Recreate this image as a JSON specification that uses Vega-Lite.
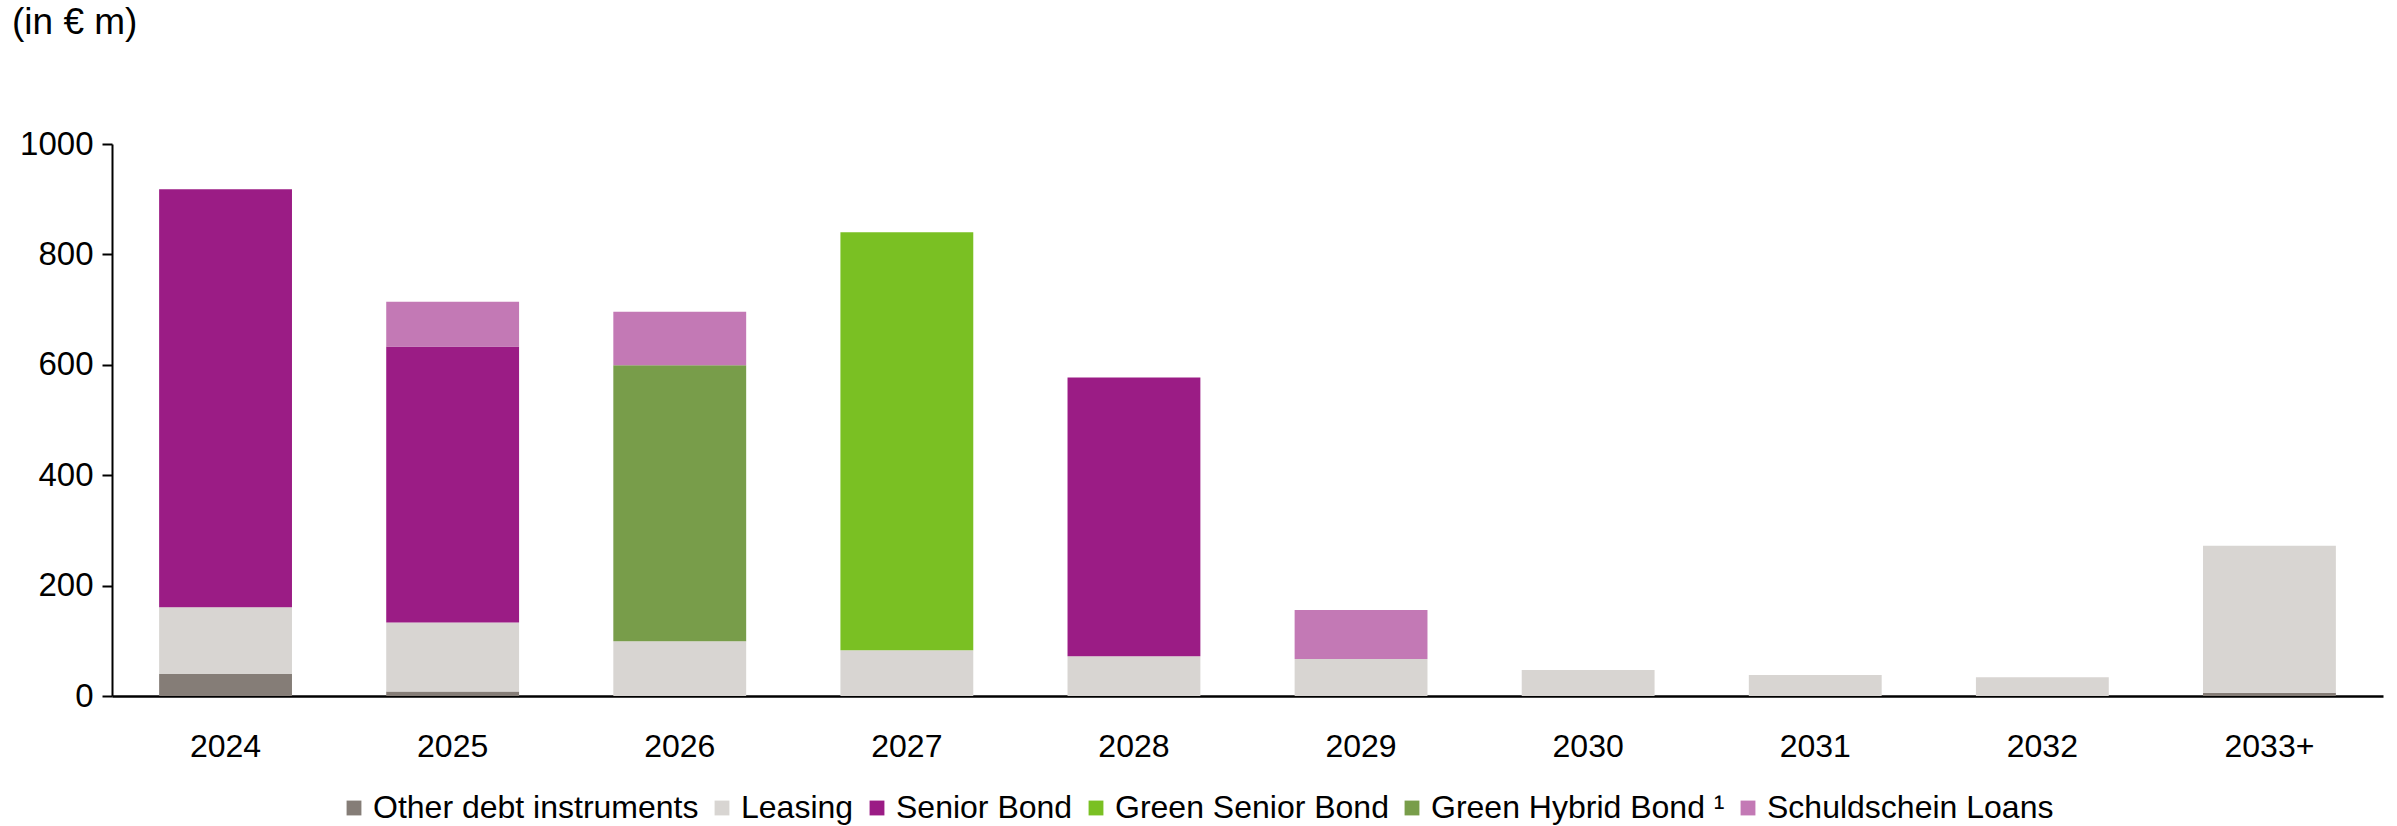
{
  "$schema": "https://vega.github.io/schema/vega-lite/v6.json",
  "width": 2271,
  "height": 552,
  "autosize": "none",
  "padding": {"left": 112, "top": 144, "right": 14, "bottom": 130},
  "background": "white",
  "title": {
    "text": "(in € m)",
    "anchor": "start",
    "frame": "group",
    "dx": -100,
    "offset": 86,
    "fontSize": 37,
    "font": "Liberation Sans",
    "fontWeight": "normal",
    "color": "#000000"
  },
  "config": {
    "view": {"stroke": null},
    "font": "Liberation Sans"
  },
  "data": {
    "values": [
      {"year": "2024", "type": "Other debt instruments", "ord": 1, "value": 40},
      {"year": "2024", "type": "Leasing", "ord": 2, "value": 121},
      {"year": "2024", "type": "Senior Bond", "ord": 3, "value": 757},
      {"year": "2025", "type": "Other debt instruments", "ord": 1, "value": 8},
      {"year": "2025", "type": "Leasing", "ord": 2, "value": 125},
      {"year": "2025", "type": "Senior Bond", "ord": 3, "value": 500},
      {"year": "2025", "type": "Schuldschein Loans", "ord": 6, "value": 81},
      {"year": "2026", "type": "Leasing", "ord": 2, "value": 99},
      {"year": "2026", "type": "Green Hybrid Bond ¹", "ord": 5, "value": 500},
      {"year": "2026", "type": "Schuldschein Loans", "ord": 6, "value": 97},
      {"year": "2027", "type": "Leasing", "ord": 2, "value": 83},
      {"year": "2027", "type": "Green Senior Bond", "ord": 4, "value": 757},
      {"year": "2028", "type": "Leasing", "ord": 2, "value": 72},
      {"year": "2028", "type": "Senior Bond", "ord": 3, "value": 505},
      {"year": "2029", "type": "Leasing", "ord": 2, "value": 67},
      {"year": "2029", "type": "Schuldschein Loans", "ord": 6, "value": 89},
      {"year": "2030", "type": "Leasing", "ord": 2, "value": 47},
      {"year": "2031", "type": "Leasing", "ord": 2, "value": 38},
      {"year": "2032", "type": "Leasing", "ord": 2, "value": 34},
      {"year": "2033+", "type": "Other debt instruments", "ord": 1, "value": 6},
      {"year": "2033+", "type": "Leasing", "ord": 2, "value": 266}
    ]
  },
  "mark": {"type": "bar"},
  "encoding": {
    "x": {
      "field": "year",
      "type": "nominal",
      "sort": null,
      "scale": {"paddingInner": 0.415, "paddingOuter": 0.2075},
      "axis": {
        "title": null,
        "labelAngle": 0,
        "labelFontSize": 32,
        "labelColor": "#000000",
        "labelPadding": 35,
        "ticks": false,
        "domainColor": "#000000",
        "domainWidth": 2.5
      }
    },
    "y": {
      "field": "value",
      "type": "quantitative",
      "stack": "zero",
      "scale": {"domain": [0, 1000], "nice": false},
      "axis": {
        "title": null,
        "values": [0, 200, 400, 600, 800, 1000],
        "format": "d",
        "grid": false,
        "labelFontSize": 33,
        "labelColor": "#000000",
        "labelPadding": 9,
        "tickSize": 10,
        "tickColor": "#000000",
        "tickWidth": 2,
        "domainColor": "#000000",
        "domainWidth": 2
      }
    },
    "color": {
      "field": "type",
      "type": "nominal",
      "scale": {
        "domain": ["Other debt instruments", "Leasing", "Senior Bond", "Green Senior Bond", "Green Hybrid Bond ¹", "Schuldschein Loans"],
        "range": ["#857d77", "#d8d5d2", "#9b1c85", "#7ac023", "#789d4a", "#c379b5"]
      },
      "legend": {
        "title": null,
        "orient": "none",
        "direction": "horizontal",
        "legendX": 226,
        "legendY": 648,
        "labelFontSize": 32,
        "labelLimit": 0,
        "labelColor": "#000000",
        "symbolType": "square",
        "symbolSize": 220,
        "symbolStrokeWidth": 0,
        "labelOffset": 3,
        "columnPadding": 7
      }
    },
    "order": {"field": "ord", "type": "quantitative"}
  }
}
